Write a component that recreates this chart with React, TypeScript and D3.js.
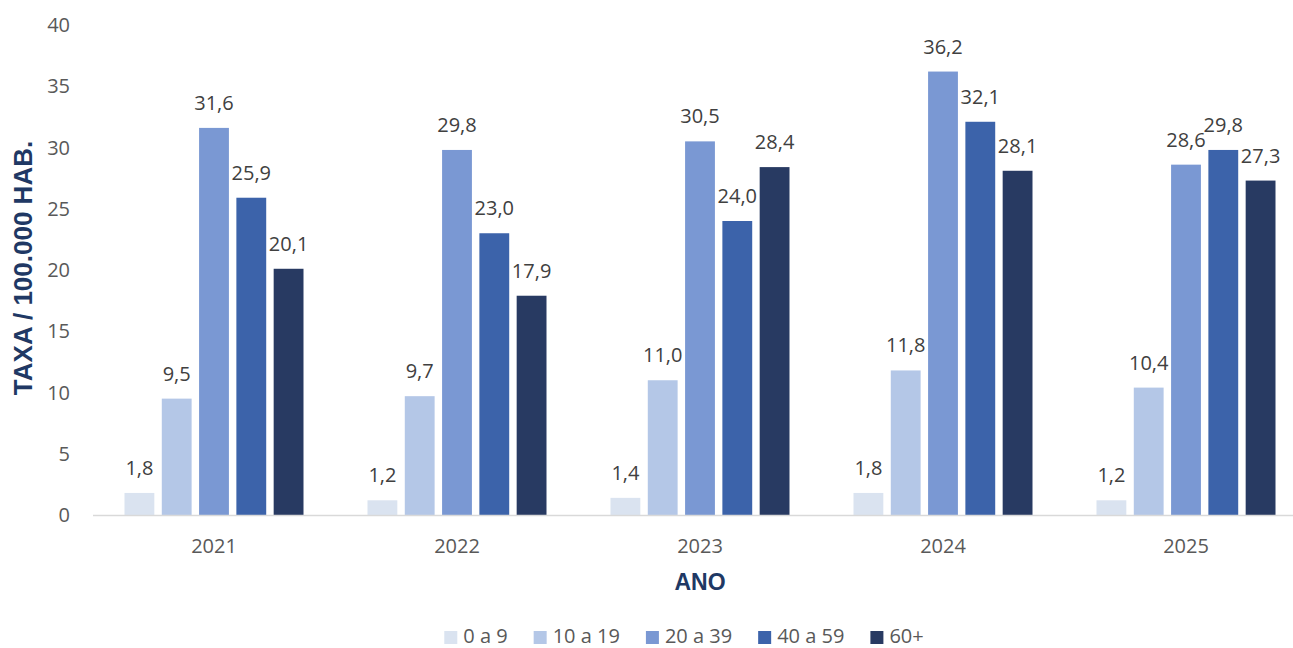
import React, { useMemo } from 'react';
import * as d3 from 'd3';

const years = ['2021', '2022', '2023', '2024', '2025'];
const groups = ['0 a 9', '10 a 19', '20 a 39', '40 a 59', '60+'];
const colors = ['#DAE3F0', '#B4C7E7', '#7A98D3', '#3C63AA', '#283A62'];

// values per age group, one entry per year
const v0a9 = [1.8, 1.2, 1.4, 1.8, 1.2];
const v10a19 = [9.5, 9.7, 11.0, 11.8, 10.4];
const v20a39 = [31.6, 29.8, 30.5, 36.2, 28.6];
const v40a59 = [25.9, 23.0, 24.0, 32.1, 29.8];
const v60 = [20.1, 17.9, 28.4, 28.1, 27.3];
const series = [v0a9, v10a19, v20a39, v40a59, v60];

const yTicks = [0, 5, 10, 15, 20, 25, 30, 35, 40];

const W = 1293;
const H = 648;
const FONT = '"Open Sans", sans-serif';
const TITLE_FONT = '"Liberation Sans", Arial, sans-serif';

const fmt = (v: number) => v.toFixed(1).replace('.', ',');

export default function App() {
  const y = d3.scaleLinear().domain([0, 40]).range([515, 25]);
  const x0 = d3.scaleBand().domain(years).range([92.5, 1307.5]).padding(0);
  const x1 = d3
    .scaleBand()
    .domain(groups)
    .range([32, x0.bandwidth() - 32])
    .paddingInner(0.2);

  // legend layout from measured text widths
  const legend = useMemo(() => {
    const ctx = document.createElement('canvas').getContext('2d');
    let widths = groups.map(g => g.length * 10);
    if (ctx) {
      ctx.font = `20px ${FONT}`;
      widths = groups.map(g => ctx.measureText(g).width);
    }
    const sq = 13;
    const gapText = 6;
    const gapItem = 26;
    const items = widths.map(w => sq + gapText + w);
    const total = d3.sum(items) + gapItem * (items.length - 1);
    let cx = 684 - total / 2;
    return items.map((w, i) => {
      const pos = cx;
      cx += w + gapItem;
      return { label: groups[i], color: colors[i], x: pos };
    });
  }, []);

  return (
    <svg width={W} height={H} style={{ position: 'absolute', left: 0, top: 0 }}>
      <rect width={W} height={H} fill="#fff" />
      {/* y tick labels */}
      {yTicks.map(t => (
        <text
          key={t}
          x={70}
          y={y(t)}
          dy="0.35em"
          textAnchor="end"
          fontFamily={FONT}
          fontSize={20}
          fill="#595959"
        >
          {t}
        </text>
      ))}
      {/* bars */}
      {years.map((yr, yi) => (
        <g key={yr} transform={`translate(${x0(yr)},0)`}>
          {series.map((s, si) => (
            <g key={groups[si]}>
              <rect
                x={x1(groups[si])}
                y={y(s[yi])}
                width={x1.bandwidth()}
                height={y(0) - y(s[yi])}
                fill={colors[si]}
              />
              <text
                x={(x1(groups[si]) as number) + x1.bandwidth() / 2}
                y={y(s[yi]) - 18}
                textAnchor="middle"
                fontFamily={FONT}
                fontSize={20}
                fill="#404040"
              >
                {fmt(s[yi])}
              </text>
            </g>
          ))}
          <text
            x={x0.bandwidth() / 2}
            y={553}
            textAnchor="middle"
            fontFamily={FONT}
            fontSize={20}
            fill="#595959"
          >
            {yr}
          </text>
        </g>
      ))}
      {/* x axis line */}
      <line x1={93} x2={W} y1={y(0) + 0.5} y2={y(0) + 0.5} stroke="#D9D9D9" strokeWidth={1.5} />
      {/* axis titles */}
      <text
        x={700}
        y={590}
        textAnchor="middle"
        fontFamily={TITLE_FONT}
        fontWeight="bold"
        fontSize={23}
        fill="#203864"
      >
        ANO
      </text>
      <text
        transform="translate(32,268) rotate(-90)"
        textAnchor="middle"
        fontFamily={TITLE_FONT}
        fontWeight="bold"
        fontSize={26}
        fill="#203864"
      >
        TAXA / 100.000 HAB.
      </text>
      {/* legend */}
      {legend.map(l => (
        <g key={l.label} transform={`translate(${l.x},0)`}>
          <rect x={0} y={631} width={13} height={13} fill={l.color} />
          <text x={19} y={643} fontFamily={FONT} fontSize={20} fill="#595959">
            {l.label}
          </text>
        </g>
      ))}
    </svg>
  );
}
